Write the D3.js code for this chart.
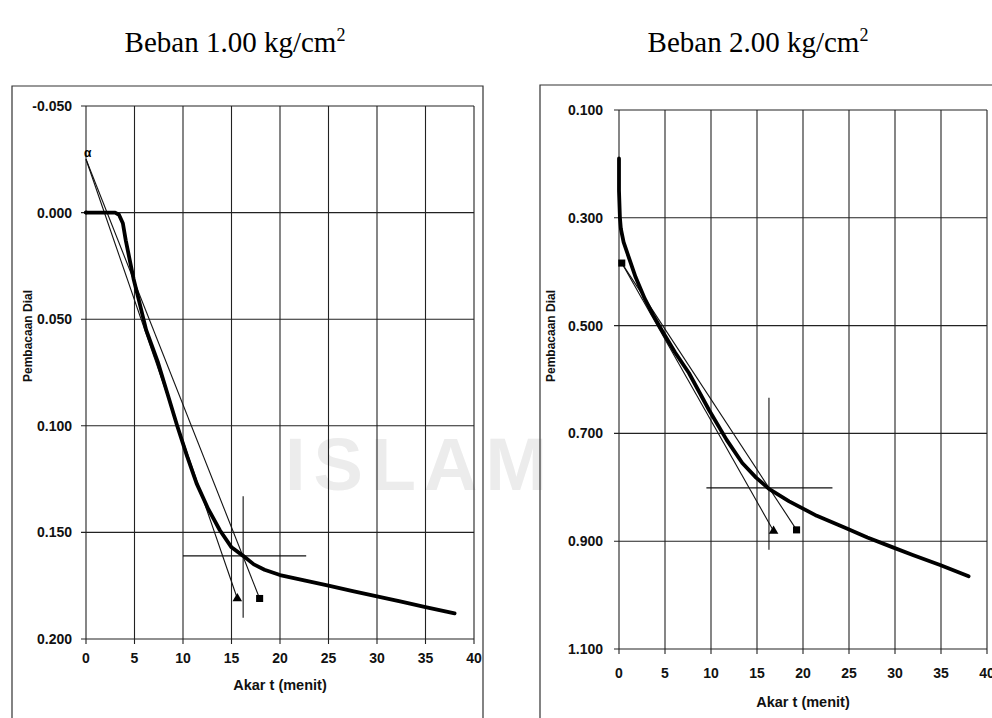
<!DOCTYPE html>
<html lang="en">
<head>
  <meta charset="UTF-8">
  <title>Beban 1.00 / 2.00 kg/cm2</title>
  <script src="https://d3js.org/d3.v7.min.js"></script>
  <style>
    body { margin: 0; background: #fff; }
    svg { display: block; }
    .tick-label { font-family: "Liberation Sans", Arial, sans-serif; font-weight: bold; font-size: 14px; fill: #111; }
    .axis-title { font-family: "Liberation Sans", Arial, sans-serif; font-weight: bold; font-size: 14.5px; fill: #111; }
    .y-title { font-family: "Liberation Sans", Arial, sans-serif; font-weight: bold; font-size: 12px; fill: #111; }
    .chart-title { font-family: "Liberation Serif", "Times New Roman", serif; font-size: 29px; fill: #000; }
  </style>
</head>
<body>
<div id="chart"></div>
<script>
// --- data ---
const xTicks = [0, 5, 10, 15, 20, 25, 30, 35, 40];

// Beban 1.00 kg/cm2
const leftYTicks = [-0.05, 0, 0.05, 0.1, 0.15, 0.2];
const leftCurveT = [0, 1, 2, 3, 3.4, 3.8, 4.1, 4.5, 4.9, 5.5, 6.2, 7.4, 8.4, 9.4, 10.4, 11.4, 12.6, 13.8, 15, 16.2, 17.3, 18.4, 20, 22.5, 25, 27.5, 30, 32.5, 35, 38];
const leftCurveV = [0, 0, 0, 0, 0.001, 0.005, 0.013, 0.022, 0.031, 0.042, 0.055, 0.070, 0.085, 0.100, 0.114, 0.127, 0.139, 0.149, 0.157, 0.161, 0.165, 0.1675, 0.170, 0.1725, 0.175, 0.1775, 0.180, 0.1825, 0.185, 0.188];
const leftStart = [0, -0.025];
const leftTriangle = [15.6, 0.181];
const leftSquare = [17.9, 0.181];
const leftCrossH = [[10, 0.161], [22.7, 0.161]];
const leftCrossV = [[16.2, 0.133], [16.2, 0.190]];

// Beban 2.00 kg/cm2
const rightYTicks = [0.1, 0.3, 0.5, 0.7, 0.9, 1.1];
const rightCurveT = [0, 0, 0.1, 0.2, 0.5, 1, 1.8, 2.8, 3.7, 4.7, 6.1, 7.6, 9.8, 11.7, 13.4, 14.9, 16.3, 18.5, 21.5, 24.7, 27, 29.7, 32, 34.9, 38];
const rightCurveV = [0.19, 0.25, 0.30, 0.32, 0.345, 0.37, 0.41, 0.45, 0.48, 0.51, 0.55, 0.588, 0.657, 0.712, 0.755, 0.782, 0.803, 0.826, 0.853, 0.876, 0.893, 0.911, 0.926, 0.944, 0.965];
const rightStart = [0.3, 0.384];
const rightTriangle = [16.8, 0.881];
const rightSquare = [19.3, 0.879];
const rightCrossH = [[9.5, 0.801], [23.2, 0.801]];
const rightCrossV = [[16.3, 0.634], [16.3, 0.916]];

const width = 992, height = 718;
const svg = d3.select("#chart").append("svg")
  .attr("width", width).attr("height", height);

// faint scan watermark
svg.append("text")
  .attr("x", 420).attr("y", 490)
  .attr("text-anchor", "middle")
  .style("font-family", "Liberation Sans, Arial, sans-serif")
  .style("font-weight", "bold")
  .style("font-size", "74px")
  .style("letter-spacing", "8px")
  .style("fill", "#ececec")
  .text("ISLAM");

function drawChart(cfg) {
  const g = svg.append("g");
  const x = d3.scaleLinear().domain([0, 40]).range(cfg.xRange);
  const y = d3.scaleLinear().domain(cfg.yDomain).range(cfg.yRange);

  // outer frame of the spreadsheet chart
  const [fx0, fy0, fx1] = cfg.frame;
  g.append("path")
    .attr("d", `M${fx0},${height}V${fy0}H${fx1}V${height}`)
    .attr("fill", "none").attr("stroke", "#333").attr("stroke-width", 1.2);

  // grid
  g.selectAll(".hgrid").data(cfg.yTicks).join("line")
    .attr("x1", x(0) - 5).attr("x2", x(40))
    .attr("y1", d => y(d)).attr("y2", d => y(d))
    .attr("stroke", "#222").attr("stroke-width", 1.1);
  g.selectAll(".vgrid").data(xTicks).join("line")
    .attr("x1", d => x(d)).attr("x2", d => x(d))
    .attr("y1", y(cfg.yDomain[0])).attr("y2", y(cfg.yDomain[1]) + 5)
    .attr("stroke", "#222").attr("stroke-width", 1.1);

  // tick labels
  g.selectAll(".ylab").data(cfg.yTicks).join("text")
    .attr("class", "tick-label")
    .attr("x", x(0) - cfg.yLabelGap).attr("y", d => y(d) + 5)
    .attr("text-anchor", "end")
    .text(d => d3.format(".3f")(d).replace("−", "-"));
  g.selectAll(".xlab").data(xTicks).join("text")
    .attr("class", "tick-label")
    .attr("x", d => x(d)).attr("y", cfg.xLabelY)
    .attr("text-anchor", "middle")
    .text(d => d);

  g.append("text").attr("class", "axis-title")
    .attr("x", (cfg.xRange[0] + cfg.xRange[1]) / 2).attr("y", cfg.xTitleY)
    .attr("text-anchor", "middle").text("Akar t (menit)");
  g.append("text").attr("class", "y-title")
    .attr("transform", `translate(${cfg.yTitleX},${cfg.yTitleY}) rotate(-90)`)
    .attr("text-anchor", "middle").text("Pembacaan Dial");

  g.append("text").attr("class", "chart-title")
    .attr("x", cfg.titleX).attr("y", 52)
    .attr("text-anchor", "middle")
    .html(cfg.title + '<tspan dy="-11" font-size="18">2</tspan>');

  const line = d3.line().x(d => x(d[0])).y(d => y(d[1]));

  // thin construction lines
  [cfg.triangle, cfg.square].forEach(end => {
    g.append("path").attr("d", line([cfg.start, end]))
      .attr("fill", "none").attr("stroke", "#111").attr("stroke-width", 1.1);
  });
  g.append("path").attr("d", line(cfg.crossH))
    .attr("fill", "none").attr("stroke", "#111").attr("stroke-width", 1.1);
  g.append("path").attr("d", line(cfg.crossV))
    .attr("fill", "none").attr("stroke", "#111").attr("stroke-width", 1.1);

  // main consolidation curve
  const pts = cfg.curveT.map((t, i) => [t, cfg.curveV[i]]);
  g.append("path").attr("d", line(pts))
    .attr("fill", "none").attr("stroke", "#000").attr("stroke-width", 3.8)
    .attr("stroke-linejoin", "round").attr("stroke-linecap", "round");

  // markers
  g.append("path")
    .attr("transform", `translate(${x(cfg.triangle[0])},${y(cfg.triangle[1])})`)
    .attr("d", d3.symbol(d3.symbolTriangle, 40)()).attr("fill", "#000");
  g.append("path")
    .attr("transform", `translate(${x(cfg.square[0])},${y(cfg.square[1])})`)
    .attr("d", d3.symbol(d3.symbolSquare, 50)()).attr("fill", "#000");
  if (cfg.startMark === "square") {
    g.append("path")
      .attr("transform", `translate(${x(cfg.start[0])},${y(cfg.start[1])})`)
      .attr("d", d3.symbol(d3.symbolSquare, 50)()).attr("fill", "#000");
  } else {
    g.append("text")
      .attr("x", x(cfg.start[0]) - 2).attr("y", y(cfg.start[1]) - 2)
      .style("font-family", "Liberation Sans, Arial, sans-serif")
      .style("font-size", "12px").style("font-weight", "bold")
      .text("α");
    g.append("circle").attr("cx", x(0)).attr("cy", y(0)).attr("r", 2).attr("fill", "#000");
  }
}

drawChart({
  title: "Beban 1.00 kg/cm",
  titleX: 235,
  frame: [12, 86, 483],
  xRange: [86, 474],
  yDomain: [-0.05, 0.2],
  yRange: [106, 639],
  yTicks: leftYTicks,
  yLabelGap: 14,
  xLabelY: 663,
  xTitleY: 690,
  yTitleX: 32,
  yTitleY: 336,
  curveT: leftCurveT, curveV: leftCurveV,
  start: leftStart, triangle: leftTriangle, square: leftSquare,
  crossH: leftCrossH, crossV: leftCrossV,
  startMark: "alpha"
});

drawChart({
  title: "Beban 2.00 kg/cm",
  titleX: 758,
  frame: [540, 85, 1000],
  xRange: [619, 987],
  yDomain: [0.1, 1.1],
  yRange: [110, 649],
  yTicks: rightYTicks,
  yLabelGap: 16,
  xLabelY: 678,
  xTitleY: 707,
  yTitleX: 555,
  yTitleY: 336,
  curveT: rightCurveT, curveV: rightCurveV,
  start: rightStart, triangle: rightTriangle, square: rightSquare,
  crossH: rightCrossH, crossV: rightCrossV,
  startMark: "square"
});
</script>
</body>
</html>
